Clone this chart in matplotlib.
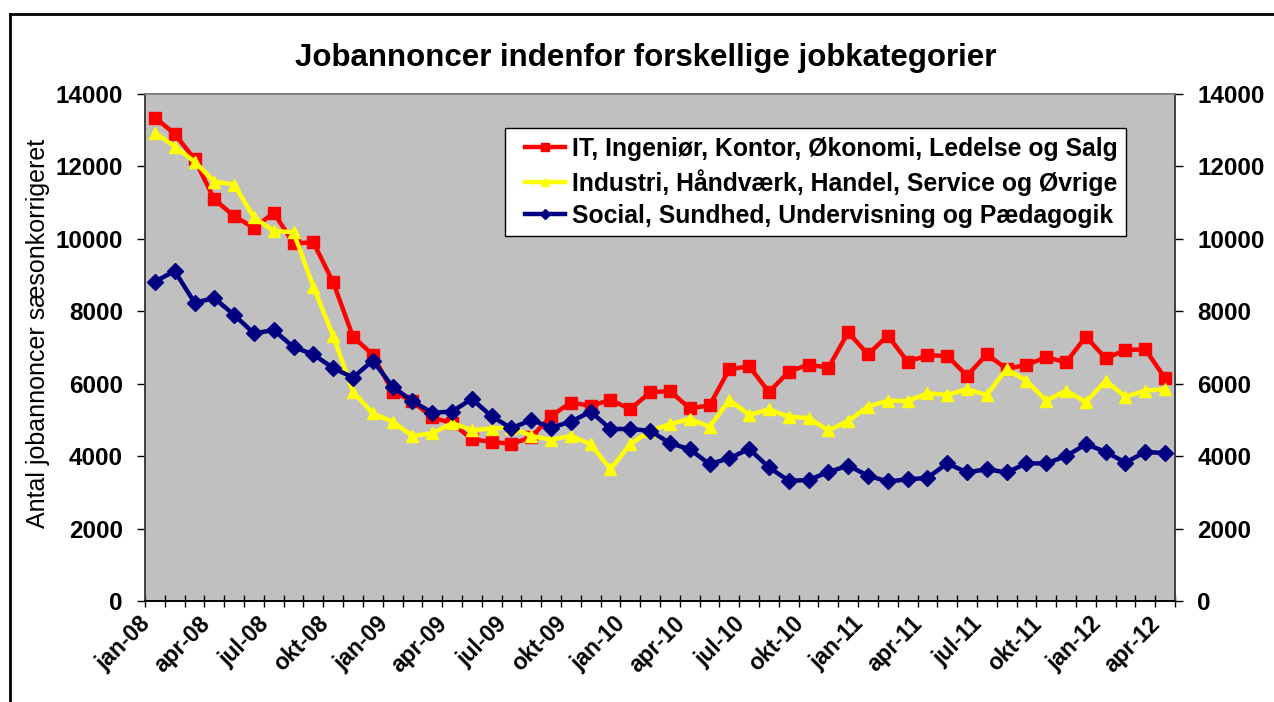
import numpy as np
import matplotlib
matplotlib.use("Agg")
import matplotlib.pyplot as plt
from matplotlib.lines import Line2D
from matplotlib.legend_handler import HandlerLine2D

# monthly data jan-08 .. apr-12, seasonally adjusted job ads
months = ["jan", "feb", "mar", "apr", "maj", "jun", "jul", "aug", "sep", "okt", "nov", "dec"]
periods = [f"{months[i % 12]}-{8 + i // 12:02d}" for i in range(52)]

it_salg = [13350, 12900, 12200, 11090, 10630, 10300, 10720, 9880, 9900, 8800,
           7300, 6800, 5780, 5520, 5070, 4910, 4470, 4390, 4340, 4520,
           5110, 5480, 5390, 5550, 5300, 5760, 5800, 5320, 5400, 6400,
           6480, 5770, 6330, 6530, 6440, 7420, 6810, 7330, 6610, 6780,
           6770, 6220, 6810, 6410, 6520, 6730, 6590, 7300, 6700, 6930,
           6950, 6150]

industri = [12930, 12550, 12130, 11580, 11500, 10590, 10220, 10180, 8680, 7320,
            5780, 5180, 4950, 4560, 4630, 4910, 4720, 4760, 4790, 4560,
            4450, 4560, 4330, 3640, 4330, 4700, 4880, 5030, 4810, 5550,
            5140, 5290, 5090, 5050, 4710, 4970, 5370, 5530, 5520, 5740,
            5690, 5850, 5690, 6410, 6080, 5530, 5810, 5490, 6080, 5640,
            5810, 5850]

social = [8820, 9110, 8240, 8360, 7900, 7390, 7480, 7010, 6810, 6430,
          6170, 6640, 5920, 5520, 5200, 5230, 5580, 5100, 4770, 5000,
          4790, 4950, 5230, 4750, 4750, 4700, 4360, 4190, 3780, 3940,
          4200, 3690, 3320, 3340, 3560, 3740, 3460, 3300, 3360, 3400,
          3800, 3550, 3640, 3550, 3800, 3800, 4000, 4330, 4120, 3820,
          4120, 4080]

labels = ["IT, Ingeniør, Kontor, Økonomi, Ledelse og Salg",
          "Industri, Håndværk, Handel, Service og Øvrige",
          "Social, Sundhed, Undervisning og Pædagogik"]

plt.rcParams['font.family'] = ['Liberation Sans', 'DejaVu Sans']

W, H = 1274, 702
fig = plt.figure(figsize=(W / 100, H / 100), dpi=100)
ax = fig.add_axes([145 / W, 1 - 601 / H, 1030 / W, 507 / H])
ax.set_facecolor('#C0C0C0')

x = np.arange(len(periods))
l1, = ax.plot(x, it_salg, color='#FF0000', lw=3.2, marker='s', ms=8, label=labels[0], zorder=3)
l2, = ax.plot(x, industri, color='#FFFF00', lw=3.2, marker='^', ms=8.5, label=labels[1], zorder=3)
l3, = ax.plot(x, social, color='#000080', lw=3.2, marker='D', ms=8, label=labels[2], zorder=4)

ax.set_xlim(-0.5, len(periods) - 0.5)
ax.set_ylim(0, 14000)
yt = np.arange(0, 14001, 2000)
ax.set_yticks(yt)
ax.set_yticklabels([str(v) for v in yt], fontsize=17.5, fontweight='bold')
ax.tick_params(axis='y', direction='out', length=6, width=1, pad=10)

# category labels every third month, tick marks between categories
ax.set_xticks(x[::3])
ax.set_xticklabels(periods[::3], rotation=45, ha='right', fontsize=16.5, fontweight='bold')
ax.tick_params(axis='x', which='major', length=0, pad=8)
ax.set_xticks(np.arange(-0.5, len(periods), 1), minor=True)
ax.tick_params(axis='x', which='minor', direction='inout', length=9, width=1)

ax2 = ax.twinx()
ax2.set_ylim(0, 14000)
ax2.set_yticks(yt)
ax2.set_yticklabels([str(v) for v in yt], fontsize=17.5, fontweight='bold')
ax2.tick_params(axis='y', direction='out', length=6, width=1, pad=10)

for a in (ax, ax2):
    a.spines['top'].set_color('#808080')
    a.spines['left'].set_color('#404040')
    a.spines['right'].set_color('#404040')
    a.spines['bottom'].set_color('black')
    for sp in a.spines.values():
        sp.set_linewidth(1.2)

hmap = {h: HandlerLine2D(xpad=0.45) for h in (l1, l2, l3)}
leg = ax.legend(loc='upper left', bbox_to_anchor=(0.3495, 0.933), borderaxespad=0,
                frameon=True, fancybox=False, shadow=False, framealpha=1,
                prop={'size': 17.8, 'weight': 'bold'}, handlelength=2.07,
                handletextpad=0.28, labelspacing=0.33, borderpad=0.35, markerscale=0.7,
                handler_map=hmap)
leg.get_frame().set_edgecolor('black')
leg.get_frame().set_linewidth(1.0)

fig.text(646 / W, 1 - 58 / H, "Jobannoncer indenfor forskellige jobkategorier",
         ha='center', va='center', fontsize=22.5, fontweight='bold')
fig.text(38 / W, 1 - 333 / H, "Antal jobannoncer sæsonkorrigeret",
         ha='center', va='center', rotation=90, fontsize=18)

# outer chart frame (left and top edges only visible)
fig.add_artist(Line2D([10 / W, 10 / W], [0, 1 - 13.5 / H], color='black', lw=2,
                      transform=fig.transFigure))
fig.add_artist(Line2D([10 / W, 1], [1 - 13.5 / H, 1 - 13.5 / H], color='black', lw=2,
                      transform=fig.transFigure))

fig.savefig("out.png", dpi=100, facecolor='white')
